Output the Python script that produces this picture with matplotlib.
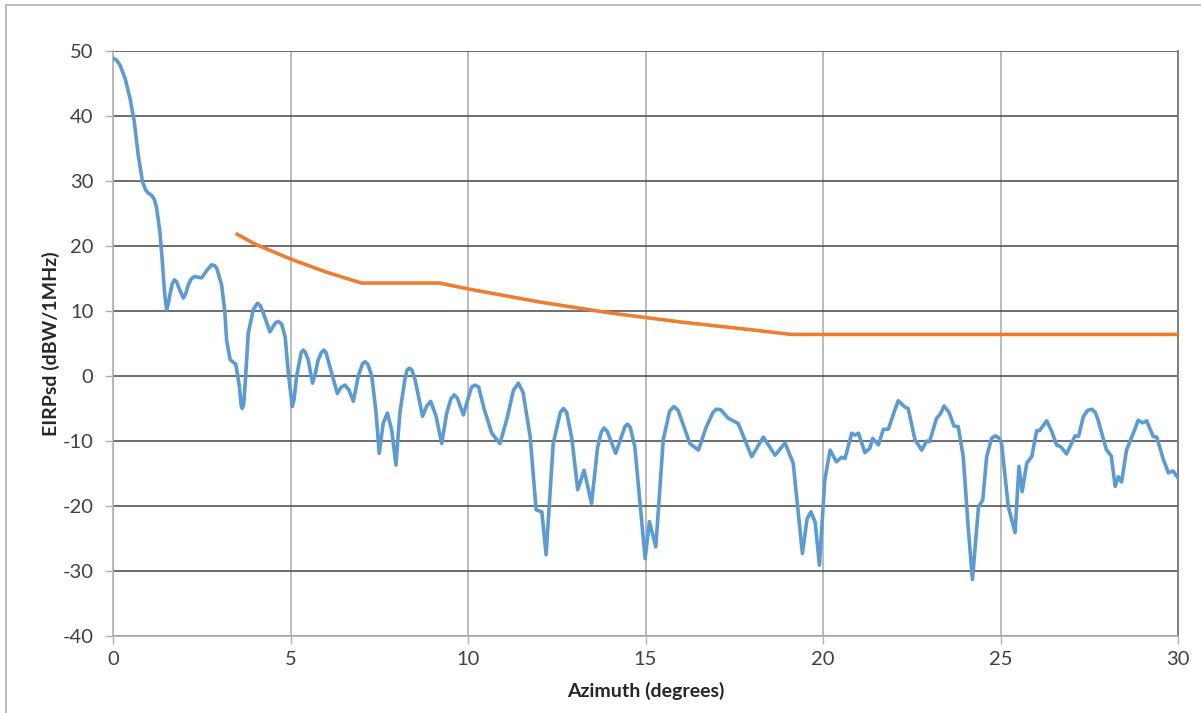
import numpy as np
import matplotlib.pyplot as plt
from matplotlib.lines import Line2D

az = [0.0, 0.1, 0.2, 0.34, 0.48, 0.6, 0.71, 0.83, 0.92, 1.0, 1.09, 1.17, 1.23, 1.32, 1.39,
      1.45, 1.51, 1.56, 1.61, 1.67, 1.73, 1.79, 1.86, 1.98, 2.05, 2.12, 2.2, 2.29, 2.4,
      2.5, 2.65, 2.78, 2.86, 2.92, 3.06, 3.15, 3.2, 3.3, 3.46, 3.56, 3.61, 3.64, 3.68,
      3.73, 3.81, 3.95, 4.07, 4.15, 4.24, 4.42, 4.58, 4.66, 4.75, 4.85, 4.94, 5.05, 5.1,
      5.17, 5.3, 5.36, 5.42, 5.5, 5.62, 5.7, 5.78, 5.87, 5.94, 6.0, 6.11, 6.32, 6.43,
      6.54, 6.65, 6.77, 6.91, 7.03, 7.1, 7.18, 7.29, 7.41, 7.5, 7.61, 7.73, 7.85, 7.97,
      8.08, 8.22, 8.28, 8.35, 8.42, 8.51, 8.72, 8.84, 8.95, 9.1, 9.26, 9.4, 9.52, 9.61,
      9.7, 9.87, 10.0, 10.1, 10.2, 10.3, 10.45, 10.67, 10.9, 11.1, 11.28, 11.42, 11.55,
      11.75, 11.92, 12.08, 12.2, 12.4, 12.6, 12.69, 12.78, 12.93, 13.09, 13.27, 13.48,
      13.65, 13.75, 13.83, 13.92, 14.16, 14.42, 14.49, 14.57, 14.7, 14.99, 15.11, 15.29,
      15.5, 15.68, 15.8, 15.92, 16.25, 16.49, 16.7, 16.9, 17.0, 17.12, 17.33, 17.61,
      17.99, 18.32, 18.65, 18.93, 19.16, 19.42, 19.55, 19.66, 19.78, 19.9, 20.05, 20.2,
      20.38, 20.52, 20.62, 20.81, 20.9, 21.0, 21.18, 21.32, 21.4, 21.56, 21.7, 21.84,
      22.0, 22.12, 22.31, 22.4, 22.59, 22.78, 22.92, 23.0, 23.2, 23.3, 23.41, 23.55,
      23.69, 23.81, 23.95, 24.1, 24.21, 24.38, 24.5, 24.61, 24.75, 24.85, 24.95, 25.03,
      25.22, 25.41, 25.52, 25.61, 25.74, 25.88, 26.02, 26.1, 26.3, 26.45, 26.58, 26.7,
      26.86, 27.1, 27.2, 27.33, 27.45, 27.57, 27.67, 27.75, 27.98, 28.12, 28.23, 28.32,
      28.41, 28.55, 28.74, 28.88, 29.0, 29.12, 29.3, 29.4, 29.59, 29.73, 29.86, 30.0]
eirp = [48.9, 48.6, 47.8, 45.8, 42.7, 39.1, 34.0, 29.9, 28.6, 28.1, 27.8, 27.1, 25.8, 22.2, 17.6,
        13.0, 10.2, 11.2, 12.7, 14.2, 14.8, 14.5, 13.5, 12.0, 12.7, 14.0, 14.9, 15.3, 15.2,
        15.1, 16.3, 17.1, 17.0, 16.6, 14.0, 9.9, 5.5, 2.5, 1.8, -1.6, -4.5, -5.0, -4.4,
        -0.6, 6.6, 10.2, 11.2, 10.8, 9.6, 6.8, 8.2, 8.4, 8.0, 6.0, 0.4, -4.7, -3.6,
        -0.1, 3.6, 4.0, 3.6, 2.5, -1.1, 0.4, 2.5, 3.6, 4.0, 3.6, 1.4, -2.7, -1.7,
        -1.4, -2.2, -3.9, 0.0, 1.9, 2.2, 1.8, 0.0, -5.7, -11.9, -7.3, -5.7, -8.3, -13.7,
        -5.7, -0.6, 0.9, 1.2, 0.9, -0.6, -6.2, -4.6, -3.9, -6.2, -10.4, -5.7, -3.5, -2.9,
        -3.4, -6.0, -3.5, -1.7, -1.4, -1.7, -5.0, -8.8, -10.4, -6.5, -2.2, -1.1, -2.5,
        -9.3, -20.6, -20.9, -27.5, -10.4, -5.6, -5.0, -5.6, -9.8, -17.5, -14.5, -19.6,
        -11.0, -8.7, -8.0, -8.5, -11.9, -7.8, -7.4, -7.9, -10.9, -28.1, -22.4, -26.3,
        -9.8, -5.4, -4.7, -5.3, -10.4, -11.4, -8.0, -5.6, -5.1, -5.2, -6.5, -7.3,
        -12.4, -9.4, -12.2, -10.3, -13.4, -27.3, -22.0, -20.9, -22.5, -29.1, -16.0, -11.4,
        -13.2, -12.5, -12.7, -8.8, -9.1, -8.8, -11.8, -11.1, -9.6, -10.6, -8.2, -8.2,
        -5.6, -3.8, -4.8, -5.0, -9.8, -11.4, -10.0, -10.1, -6.5, -5.9, -4.6, -5.6,
        -7.7, -7.8, -12.4, -24.0, -31.3, -20.1, -19.1, -12.4, -9.6, -9.2, -9.5, -10.4,
        -20.1, -24.1, -13.9, -17.8, -13.4, -12.4, -8.4, -8.4, -6.9, -8.6, -10.6, -10.9,
        -12.0, -9.2, -9.3, -6.3, -5.3, -5.1, -5.6, -6.8, -11.3, -12.3, -17.0, -15.5,
        -16.3, -11.4, -8.8, -6.8, -7.2, -6.9, -9.3, -9.4, -12.9, -14.9, -14.6, -15.7]

# EIRP density mask
mask_az = [3.5, 4.0, 5.0, 6.0, 7.0, 9.2, 10.0, 12.0, 14.0, 16.0, 18.0, 19.1, 30.0]
mask_val = [21.8, 20.3, 18.0, 16.0, 14.3, 14.3, 13.4, 11.4, 9.7, 8.3, 7.1, 6.4, 6.4]

plt.rcParams['font.family'] = ['Lato', 'DejaVu Sans']
plt.rcParams['axes.unicode_minus'] = False

fig = plt.figure(figsize=(12.01, 7.13), dpi=100)
ax = fig.add_axes([113/1201, 1-636/713, (1178-113)/1201, (636-51)/713])

ax.plot(az, eirp, color='#5B9BD5', lw=2.6, solid_joinstyle='round', zorder=3)
ax.plot(mask_az, mask_val, color='#ED7D31', lw=2.6, zorder=3)

ax.set_xlim(0, 30)
ax.set_ylim(-40, 50)
ax.set_xticks(range(0, 31, 5))
ax.set_yticks(range(-40, 51, 10))

ax.grid(axis='y', color='#555555', lw=1.2)
ax.grid(axis='x', color='#b0b0b0', lw=1.2)
ax.set_axisbelow(True)

for s in ['left', 'bottom']:
    ax.spines[s].set_color('#b0b0b0')
    ax.spines[s].set_linewidth(1.2)
ax.spines['right'].set_color('#777777')
ax.spines['right'].set_linewidth(1.3)
ax.spines['top'].set_visible(False)

ax.tick_params(axis='both', length=6, width=1.0, color='#b0b0b0',
               labelsize=14.5, labelcolor='#404040', pad=5)
ax.tick_params(axis='y', pad=8)

ax.set_xlabel('Azimuth (degrees)', fontsize=14, fontweight='bold', color='#262626', labelpad=10)
ax.set_ylabel('EIRPsd (dBW/1MHz)', fontsize=14, fontweight='bold', color='#262626', labelpad=2)

# outer frame (top and left edges visible)
fig.add_artist(Line2D([6/1201, 6/1201], [0, 1-5/713], color='#b0b0b0', lw=1.2))
fig.add_artist(Line2D([6/1201, 1], [1-5/713, 1-5/713], color='#b0b0b0', lw=1.2))

fig.savefig('out.png', dpi=100)
